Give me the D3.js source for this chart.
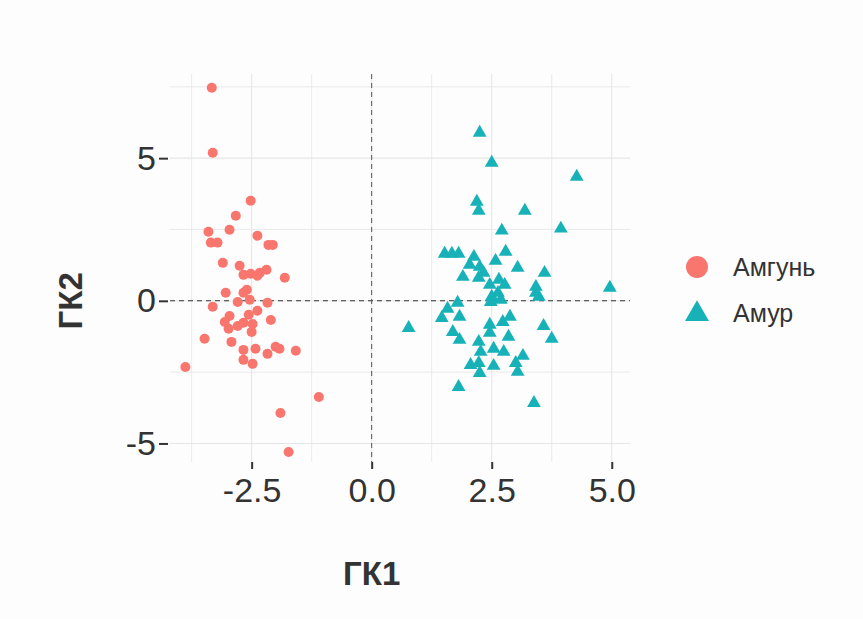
<!DOCTYPE html>
<html>
<head>
<meta charset="utf-8">
<script src="https://cdn.jsdelivr.net/npm/d3@7"></script>
<style>
  html, body { margin: 0; padding: 0; background: #fdfdfd; }
  svg { display: block; font-family: "Liberation Sans", Arial, sans-serif; }
</style>
</head>
<body>
<svg id="chart" width="863" height="619"></svg>
<script>
// Principal component scores (ГК1, ГК2) per sample, by river
const groups = ["Амгунь", "Амур"];
const groupColors = ["#F8766D", "#17B2B8"];

const amgunPC1 = [-3.33, -3.31, -2.52, -2.83, -3.40, -2.96, -2.38, -3.35, -3.21, -2.15,
  -2.06, -3.10, -2.75, -2.19, -1.81, -2.67, -2.52, -2.38, -2.33, -2.60,
  -3.04, -2.67, -2.79, -2.54, -2.17, -3.31, -2.96, -2.56, -2.38, -2.10,
  -3.06, -2.98, -2.79, -2.67, -2.48, -2.50, -3.48, -2.92, -2.67, -2.42,
  -2.17, -2.00, -1.92, -1.58, -2.67, -2.48, -3.88, -1.10, -1.90, -1.73];
const amgunPC2 = [7.47, 5.19, 3.51, 2.98, 2.42, 2.49, 2.28, 2.04, 2.04, 1.96,
  1.96, 1.33, 1.23, 1.09, 0.81, 0.91, 0.95, 0.88, 0.98, 0.39,
  0.28, 0.28, -0.04, 0.04, -0.07, -0.21, -0.53, -0.49, -0.35, -0.67,
  -0.74, -0.98, -0.88, -0.77, -0.81, -1.09, -1.33, -1.44, -1.72, -1.68,
  -1.86, -1.61, -1.68, -1.75, -2.07, -2.21, -2.32, -3.37, -3.93, -5.30];

const amurPC1 = [2.25, 2.50, 4.27, 2.19, 2.23, 3.19, 3.94, 2.71, 1.52, 1.67,
  1.81, 2.13, 2.04, 2.25, 2.33, 1.90, 2.23, 2.58, 2.79, 3.04,
  3.60, 2.46, 2.65, 2.77, 3.42, 4.96, 3.42, 3.48, 2.50, 2.63,
  2.48, 2.69, 1.79, 1.58, 1.46, 1.83, 0.77, 2.46, 2.73, 2.88,
  1.69, 2.46, 3.58, 1.83, 2.23, 2.85, 3.75, 2.27, 2.54, 2.75,
  3.15, 2.06, 2.23, 2.54, 3.00, 2.25, 3.04, 1.81, 3.38];
const amurPC2 = [5.89, 4.84, 4.35, 3.47, 3.16, 3.16, 2.53, 2.46, 1.65, 1.65,
  1.65, 1.54, 1.26, 1.19, 0.98, 0.84, 0.81, 1.40, 1.72, 1.16,
  0.98, 0.56, 0.74, 0.56, 0.49, 0.46, 0.28, 0.14, 0.14, 0.28,
  -0.04, 0.04, -0.07, -0.28, -0.60, -0.56, -0.95, -0.84, -0.74, -0.56,
  -1.09, -1.12, -0.88, -1.37, -1.44, -1.26, -1.33, -1.79, -1.68, -1.79,
  -1.93, -2.25, -2.18, -2.28, -2.18, -2.53, -2.49, -3.02, -3.58];

const xTicks = [-2.5, 0.0, 2.5, 5.0];
const xMinor = [-3.75, -1.25, 1.25, 3.75];
const yTicks = [-5, 0, 5];
const yMinor = [-2.5, 2.5, 7.5];
const xTitle = "ГК1";
const yTitle = "ГК2";

const svg = d3.select("#chart");
const panel = { left: 170, right: 630, top: 74, bottom: 462 };

const x = d3.scaleLinear().domain([-4.2, 5.38]).range([panel.left, panel.right]);
const y = d3.scaleLinear().domain([-5.65, 7.95]).range([panel.bottom, panel.top]);

// plain hyphen for negative tick labels
const fmtX = v => d3.format(".1f")(v).replace("\u2212", "-");
const fmtY = v => d3.format("d")(v).replace("\u2212", "-");

const grid = svg.append("g");
// minor and major grid lines
[...xMinor, ...xTicks].forEach(v => {
  grid.append("line")
    .attr("x1", x(v)).attr("x2", x(v))
    .attr("y1", panel.top).attr("y2", panel.bottom)
    .attr("stroke", "#e6e6e6").attr("stroke-width", xTicks.includes(v) ? 1.1 : 0.8);
});
[...yMinor, ...yTicks].forEach(v => {
  grid.append("line")
    .attr("x1", panel.left).attr("x2", panel.right)
    .attr("y1", y(v)).attr("y2", y(v))
    .attr("stroke", "#e6e6e6").attr("stroke-width", yTicks.includes(v) ? 1.1 : 0.8);
});

// reference lines through the origin
svg.append("line")
  .attr("x1", panel.left).attr("x2", panel.right)
  .attr("y1", y(0)).attr("y2", y(0))
  .attr("stroke", "#333").attr("stroke-width", 1.1).attr("stroke-dasharray", "5,4");
svg.append("line")
  .attr("x1", x(0)).attr("x2", x(0))
  .attr("y1", panel.top).attr("y2", panel.bottom)
  .attr("stroke", "#555").attr("stroke-width", 1).attr("stroke-dasharray", "5,4");

// axes
const xAxis = d3.axisBottom(x).tickValues(xTicks).tickFormat(fmtX).tickSize(7).tickPadding(9);
const gx = svg.append("g").attr("transform", `translate(0,${panel.bottom})`).call(xAxis);
gx.select(".domain").remove();
gx.selectAll(".tick line").attr("stroke", "#333").attr("stroke-width", 2);
gx.selectAll(".tick text").attr("fill", "#333").style("font-size", "34px");

const yAxis = d3.axisLeft(y).tickValues(yTicks).tickFormat(fmtY).tickSize(9).tickPadding(3);
const gy = svg.append("g").attr("transform", `translate(${panel.left - 2},0)`).call(yAxis);
gy.select(".domain").remove();
gy.selectAll(".tick line").attr("stroke", "#333").attr("stroke-width", 2);
gy.selectAll(".tick text").attr("fill", "#333").style("font-size", "34px");

// axis titles
svg.append("text")
  .attr("x", x(0)).attr("y", 585)
  .attr("text-anchor", "middle")
  .style("font-size", "33px").style("font-weight", "bold").attr("fill", "#333")
  .text(xTitle);
svg.append("text")
  .attr("transform", `translate(82,${y(0)}) rotate(-90)`)
  .attr("text-anchor", "middle")
  .style("font-size", "33px").style("font-weight", "bold").attr("fill", "#333")
  .text(yTitle);

// points
const amgun = amgunPC1.map((v, i) => ({ pc1: v, pc2: amgunPC2[i] }));
const amur = amurPC1.map((v, i) => ({ pc1: v, pc2: amurPC2[i] }));

const tri = d3.symbol().type(d3.symbolTriangle);

svg.append("g").selectAll("circle").data(amgun).join("circle")
  .attr("cx", d => x(d.pc1)).attr("cy", d => y(d.pc2))
  .attr("r", 5).attr("fill", groupColors[0]);

svg.append("g").selectAll("path").data(amur).join("path")
  .attr("transform", d => `translate(${x(d.pc1)},${y(d.pc2)})`)
  .attr("d", tri.size(82)()).attr("fill", groupColors[1]);

// legend
const legend = svg.append("g");
const legY = [267, 313];
legend.append("circle").attr("cx", 697).attr("cy", legY[0]).attr("r", 11).attr("fill", groupColors[0]);
legend.append("path").attr("transform", `translate(697,${legY[1] + 1})`)
  .attr("d", d3.symbol().type(d3.symbolTriangle).size(250)()).attr("fill", groupColors[1]);
groups.forEach((g, i) => {
  legend.append("text")
    .attr("x", 733).attr("y", legY[i] + 9)
    .style("font-size", "25px").attr("fill", "#333")
    .text(g);
});
</script>
</body>
</html>
